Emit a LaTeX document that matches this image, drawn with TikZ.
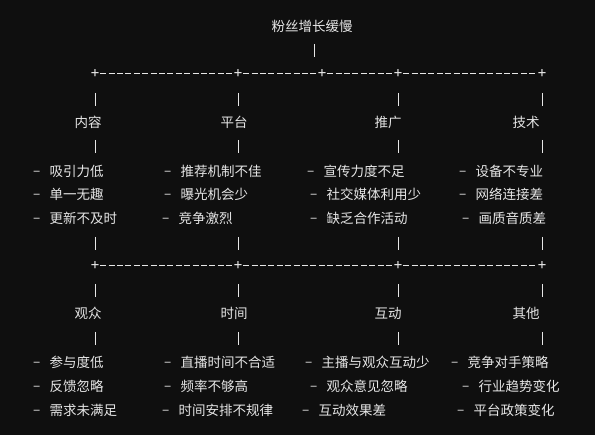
\documentclass[tikz,border=0pt]{standalone}
\usepackage{fontspec}
\setmainfont{Noto Sans CJK SC}
\newfontfamily\plusfont{DejaVu Sans Mono}
\usetikzlibrary{calc}
\definecolor{bgdark}{HTML}{0F0F0F}
\definecolor{ink}{HTML}{E6E6E6}
\newcommand{\itm}[1]{\makebox[16.5pt][l]{\raisebox{0.5pt}{–}}#1}

\begin{document}
\begin{tikzpicture}[x=1pt,y=-1pt,
  every node/.style={text=ink,font=\fontsize{13.5}{16}\selectfont,inner sep=0pt},
  cat/.style={anchor=center},
  item/.style={anchor=west},
  plus/.style={font=\plusfont\fontsize{14}{16}\selectfont},
  hline/.style={draw=ink,line width=1pt,dash pattern=on 6pt off 2.4pt,shorten <=0.8pt,shorten >=0.8pt},
  bar/.style={draw=ink,line width=1pt}]
  \fill[bgdark] (0,0) rectangle (595,435);
  \useasboundingbox (0,0) rectangle (595,435);
  % root
  \node (root) at (312,26) {粉丝增长缓慢};
  \draw[bar] (root) ++(2,18) -- ++(0,13);
  % upper branch line
  \node[plus] (p1) at (95,74) {+};
  \node[plus] (p2) at (238,74) {+};
  \node[plus] (p3) at (322,74) {+};
  \node[plus] (p4) at (398,74) {+};
  \node[plus] (p5) at (542,74) {+};
  \draw[hline] (p1) -- (p2); \draw[hline] (p2) -- (p3);
  \draw[hline] (p3) -- (p4); \draw[hline] (p4) -- (p5);
  % upper categories
  \node[cat] (c1) at (88,122) {内容};
  \node[cat] (c2) at (234,122) {平台};
  \node[cat] (c3) at (388,122) {推广};
  \node[cat] (c4) at (526,122) {技术};
  \draw[bar] (p1) ++(0,19) -- ++(0,13); \draw[bar] (p1) ++(0,66) -- ++(0,13);
  \draw[bar] (p2) ++(0,19) -- ++(0,13); \draw[bar] (p2) ++(0,66) -- ++(0,13);
  \draw[bar] (p4) ++(0,19) -- ++(0,13); \draw[bar] (p4) ++(0,66) -- ++(0,13);
  \draw[bar] (p5) ++(0,19) -- ++(0,13); \draw[bar] (p5) ++(0,66) -- ++(0,13);
  % upper items
  \node[item] (a11) at (33,171) {\itm{吸引力低}};
  \node[item] (a12) at (33,194) {\itm{单一无趣}};
  \node[item] (a13) at (33,218) {\itm{更新不及时}};
  \node[item] (a21) at (164,171) {\itm{推荐机制不佳}};
  \node[item] (a22) at (164,194) {\itm{曝光机会少}};
  \node[item] (a23) at (162,218) {\itm{竞争激烈}};
  \node[item] (a31) at (307,171) {\itm{宣传力度不足}};
  \node[item] (a32) at (310,194) {\itm{社交媒体利用少}};
  \node[item] (a33) at (310,218) {\itm{缺乏合作活动}};
  \node[item] (a41) at (459,171) {\itm{设备不专业}};
  \node[item] (a42) at (459,194) {\itm{网络连接差}};
  \node[item] (a43) at (462,218) {\itm{画质音质差}};
  % lower branch line
  \node[plus] (q1) at (95,266) {+};
  \node[plus] (q2) at (238,266) {+};
  \node[plus] (q3) at (398,266) {+};
  \node[plus] (q4) at (542,266) {+};
  \draw[hline] (q1) -- (q2); \draw[hline] (q2) -- (q3); \draw[hline] (q3) -- (q4);
  \draw[bar] (q1) ++(0,-29) -- ++(0,13); \draw[bar] (q2) ++(0,-29) -- ++(0,13);
  \draw[bar] (q3) ++(0,-29) -- ++(0,13); \draw[bar] (q4) ++(0,-29) -- ++(0,13);
  % lower categories
  \node[cat] (d1) at (88,313) {观众};
  \node[cat] (d2) at (234,313) {时间};
  \node[cat] (d3) at (388,313) {互动};
  \node[cat] (d4) at (526,313) {其他};
  \draw[bar] (q1) ++(0,18) -- ++(0,13); \draw[bar] (q1) ++(0,66) -- ++(0,13);
  \draw[bar] (q2) ++(0,18) -- ++(0,13); \draw[bar] (q2) ++(0,66) -- ++(0,13);
  \draw[bar] (q3) ++(0,18) -- ++(0,13); \draw[bar] (q3) ++(0,66) -- ++(0,13);
  \draw[bar] (q4) ++(0,18) -- ++(0,13); \draw[bar] (q4) ++(0,66) -- ++(0,13);
  % lower items
  \node[item] (b11) at (33,362) {\itm{参与度低}};
  \node[item] (b12) at (33,386) {\itm{反馈忽略}};
  \node[item] (b13) at (33,410) {\itm{需求未满足}};
  \node[item] (b21) at (164,362) {\itm{直播时间不合适}};
  \node[item] (b22) at (164,386) {\itm{频率不够高}};
  \node[item] (b23) at (162,410) {\itm{时间安排不规律}};
  \node[item] (b31) at (305,362) {\itm{主播与观众互动少}};
  \node[item] (b32) at (310,386) {\itm{观众意见忽略}};
  \node[item] (b33) at (302,410) {\itm{互动效果差}};
  \node[item] (b41) at (451,362) {\itm{竞争对手策略}};
  \node[item] (b42) at (462,386) {\itm{行业趋势变化}};
  \node[item] (b43) at (457,410) {\itm{平台政策变化}};
\end{tikzpicture}
\end{document}
